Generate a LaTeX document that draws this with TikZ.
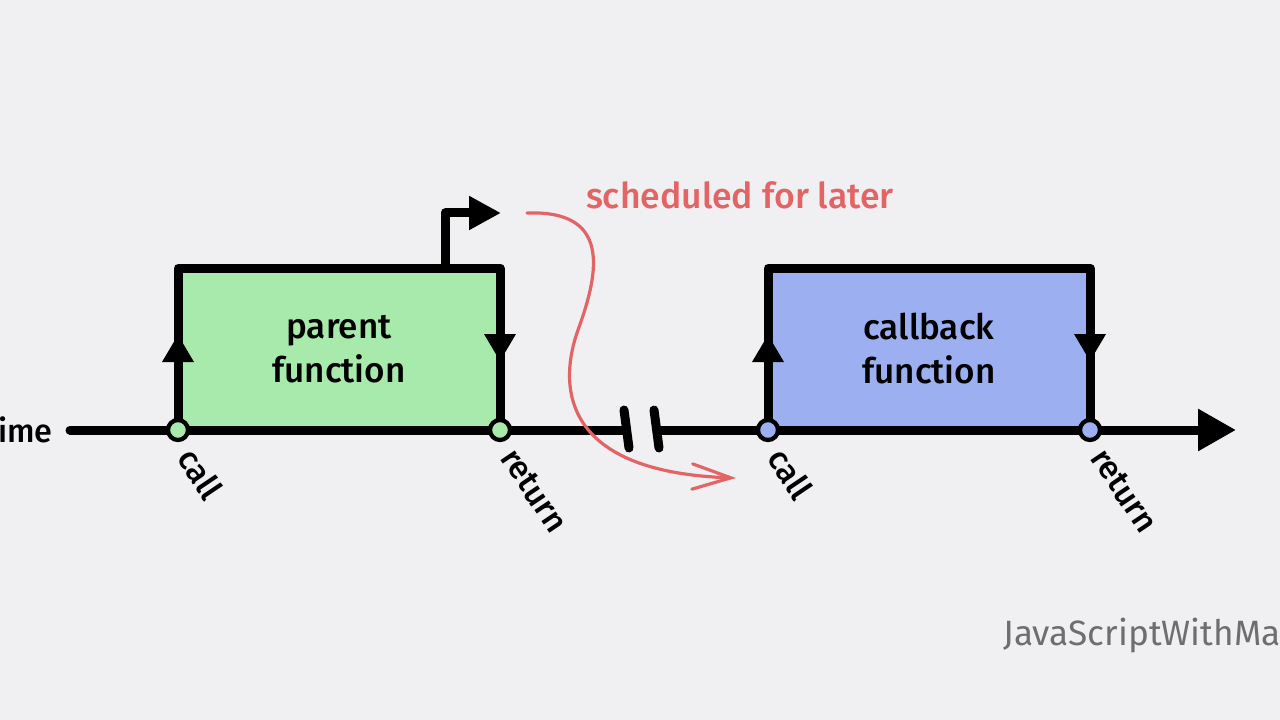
\documentclass[tikz,border=0pt]{standalone}
\usepackage{fontspec}
\setmainfont{Fira Sans}
\newfontfamily\fmed{Fira Sans Medium}
\newfontfamily\fsemi{Fira Sans SemiBold}
\usetikzlibrary{arrows.meta,calc}
\definecolor{bg}{HTML}{F0F0F2}
\definecolor{gfill}{HTML}{A7EAAB}
\definecolor{bfill}{HTML}{9CB0F1}
\definecolor{redc}{HTML}{E26464}
\definecolor{wm}{HTML}{6E6E6E}
\tikzset{
  fbox/.style={draw=black, line width=6.75pt, rectangle, outer sep=0pt, inner sep=0pt,
    minimum width=241.5pt, minimum height=121.5pt, line join=round,
    align=center, font=\fmed\fontsize{26.3}{33}\selectfont},
  dot/.style={circle, draw=black, line width=3.2pt, minimum size=15pt, inner sep=0pt, outer sep=0pt},
  tline/.style={line width=6.75pt, line cap=round, draw=black},
  lbl/.style={font=\fmed\fontsize{24.5}{28}\selectfont, rotate=-56, anchor=west, inner sep=0pt},
}
\begin{document}
\begin{tikzpicture}[x=0.75pt,y=-0.75pt]
\fill[bg] (0,0) rectangle (1280,720);
\useasboundingbox (0,0) rectangle (1280,720);

% boxes
\node[fbox, fill=gfill] (g) at (339,349) {parent\\function};
\node[fbox, fill=bfill] (b) at (929,349) {callback\\function};

% edge arrows
\foreach \n in {g,b}{
  \fill ([shift={(0,-14)}]\n.west) -- ([shift={(-16,13)}]\n.west) -- ([shift={(16,13)}]\n.west) -- cycle;
  \fill ([shift={(0,12)}]\n.east) -- ([shift={(-16,-15)}]\n.east) -- ([shift={(16,-15)}]\n.east) -- cycle;
}

% timeline
\coordinate (t0) at (70,430);
\coordinate (k1) at (624,430);
\coordinate (k2) at (659,430);
\coordinate (tend) at (1236,430);
\draw[tline] (t0) -- (k1);
\draw[tline, line cap=butt, -{Triangle[length=28.5pt,width=30pt]}] (k2) -- (tend);
\coordinate (b1a) at (624,410); \coordinate (b1b) at (629,448);
\coordinate (b2a) at (654,410); \coordinate (b2b) at (659,448);
\draw[tline] (b1a) -- (b1b);
\draw[tline] (b2a) -- (b2b);

% small scheduling arrow
\coordinate (s0) at (445,268);
\coordinate (s1) at (501,213);
\draw[line width=6.75pt, line join=round, -{Triangle[length=24pt,width=24pt]}] (s0) |- (s1);

% dots
\node[dot, fill=gfill] (c1) at (178,430) {};
\node[dot, fill=gfill] (r1) at (500,430) {};
\node[dot, fill=bfill] (c2) at (768,430) {};
\node[dot, fill=bfill] (r2) at (1090,430) {};

% labels
\node[lbl] (lc1) at ($(c1)+(8,22)$) {call};
\node[lbl] (lr1) at ($(r1)+(8,22)$) {return};
\node[lbl] (lc2) at ($(c2)+(8,22)$) {call};
\node[lbl] (lr2) at ($(r2)+(8,22)$) {return};

% red curve
\coordinate (p0) at (527,213);
\coordinate (pm) at (578,330);
\coordinate (p1) at (736,478);
\draw[redc, line width=2.4pt, line cap=round, -{Straight Barb[length=29pt,width=19pt,line cap=round]}]
  (p0) .. controls (610,210) and (600,270) .. (pm) .. controls (560,380) and (555,472) .. (p1);
\node[font=\fmed\fontsize{26.7}{30}\selectfont, text=redc, anchor=base] (sch) at (740,209) {scheduled for later};

% time label and watermark
\node[font=\fmed\fontsize{24.3}{28}\selectfont, anchor=east, inner sep=0pt] (tm) at (53,430) {ime};
\node[font=\fontsize{26.4}{30}\selectfont, text=wm, anchor=base east, inner sep=0pt] (wmk) at (1281,645) {JavaScriptWithMa};
\end{tikzpicture}
\end{document}
